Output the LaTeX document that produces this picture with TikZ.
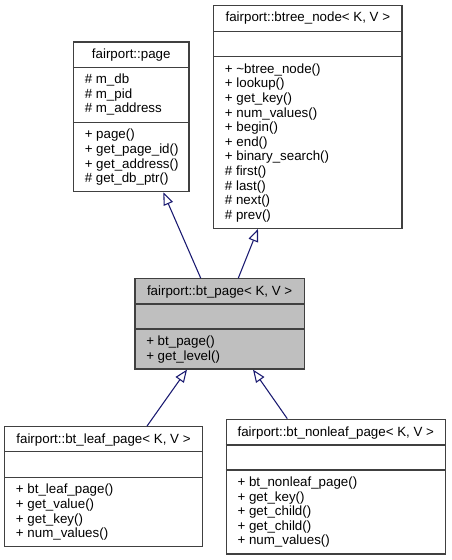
\documentclass[tikz,border=0pt]{standalone}
\usepackage{fontspec}
\setmainfont{Liberation Sans}
\usetikzlibrary{arrows.meta,fit}
\definecolor{edgeblue}{HTML}{191970}
\tikzset{
  cls/.style={draw=black!75, line width=0.9pt, inner sep=0pt, fill=white},
  cur/.style={cls, fill=black!25},
  sepline/.style={draw=black!75, line width=0.9pt},
  ttl/.style={anchor=base, inner sep=0pt, font=\fontsize{10}{12}\selectfont},
  mem/.style={anchor=base west, inner sep=0pt, font=\fontsize{10}{12}\selectfont},
  inh/.style={edgeblue, line width=0.8pt, -{Triangle[open, length=9.5pt, width=7.5pt]}}
}
\begin{document}
\begin{tikzpicture}[x=0.75pt,y=-0.75pt]
        \useasboundingbox (0,0) rectangle (451,560);
        % classes
        \node[cls, fit={(73.5,42)(189,191.7)}] (page) {};
        \node[cls, fit={(213.7,5.3)(402,228.3)}] (btree) {};
        \node[cur, fit={(135,278.7)(304.3,369)}] (btpage) {};
        \node[cls, fit={(4.7,426.7)(202.3,546.7)}] (leaf) {};
        \node[cls, fit={(226.3,419.3)(445.3,554)}] (nonleaf) {};
        % compartments
        \draw[sepline] (page.west |- 0,67.3) -- (page.east |- 0,67.3) (page.west |- 0,122.3) -- (page.east |- 0,122.3);
        \draw[sepline] (btree.west |- 0,31.7) -- (btree.east |- 0,31.7) (btree.west |- 0,56.7) -- (btree.east |- 0,56.7);
        \draw[sepline] (btpage.west |- 0,304) -- (btpage.east |- 0,304) (btpage.west |- 0,329) -- (btpage.east |- 0,329);
        \draw[sepline] (leaf.west |- 0,451.7) -- (leaf.east |- 0,451.7) (leaf.west |- 0,477.3) -- (leaf.east |- 0,477.3);
        \draw[sepline] (nonleaf.west |- 0,445) -- (nonleaf.east |- 0,445) (nonleaf.west |- 0,470) -- (nonleaf.east |- 0,470);
        % titles
        \node[ttl] (page-t) at (page.north |- 0,58.5) {fairport::page};
        \node[ttl] (btree-t) at (btree.north |- 0,22) {fairport::btree\_node< K, V >};
        \node[ttl] (btpage-t) at (btpage.north |- 0,295) {fairport::bt\_page< K, V >};
        \node[ttl] (leaf-t) at (leaf.north |- 0,443) {fairport::bt\_leaf\_page< K, V >};
        \node[ttl] (nonleaf-t) at (nonleaf.north |- 0,436) {fairport::bt\_nonleaf\_page< K, V >};
        % members
        \foreach \m [count=\i from 0] in {m\_db, m\_pid, m\_address}
            \node[mem] (page-a\i) at (84.5,83.8+14.6*\i) {\# \m};
        \foreach \m [count=\i from 0] in {+ page(), + get\_page\_id(), + get\_address(), \# get\_db\_ptr()}
            \node[mem] (page-m\i) at (84.5,138.8+14.6*\i) {\m};
        \foreach \m [count=\i from 0] in {+ \textasciitilde btree\_node(), + lookup(), + get\_key(), + num\_values(), + begin(), + end(), + binary\_search(), \# first(), \# last(), \# next(), \# prev()}
            \node[mem] (btree-m\i) at (224.7,73.2+14.6*\i) {\m};
        \foreach \m [count=\i from 0] in {+ bt\_page(), + get\_level()}
            \node[mem] (btpage-m\i) at (146,345.5+14.6*\i) {\m};
        \foreach \m [count=\i from 0] in {+ bt\_leaf\_page(), + get\_value(), + get\_key(), + num\_values()}
            \node[mem] (leaf-m\i) at (15.7,493.8+14.6*\i) {\m};
        \foreach \m [count=\i from 0] in {+ bt\_nonleaf\_page(), + get\_key(), + get\_child(), + get\_child(), + num\_values()}
            \node[mem] (nonleaf-m\i) at (237.3,486.5+14.6*\i) {\m};
        % inheritance
        \draw[inh] (btpage.north -| 200.7,0) -- (page.south -| 163.3,0);
        \draw[inh] (btpage.north -| 238.3,0) -- (btree.south -| 258,0);
        \draw[inh] (leaf.north -| 147,0) -- (btpage.south -| 187,0);
        \draw[inh] (nonleaf.north -| 287.3,0) -- (btpage.south -| 253,0);
    \end{tikzpicture}
\end{document}
